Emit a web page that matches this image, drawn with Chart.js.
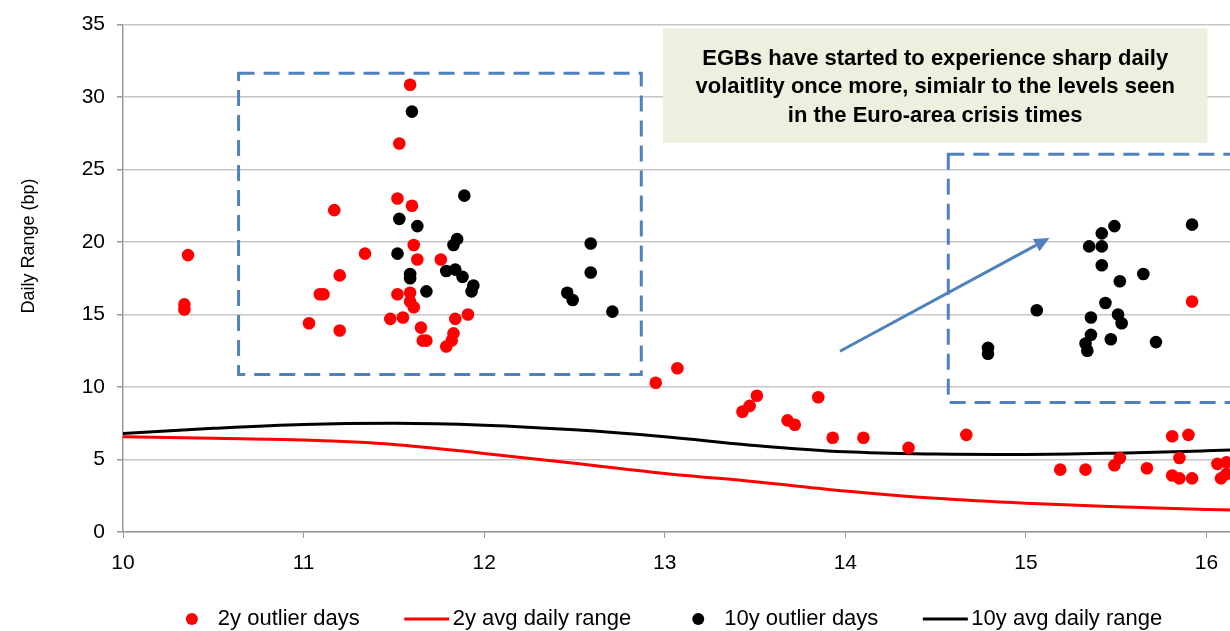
<!DOCTYPE html>
<html lang="en">
<head>
<meta charset="UTF-8" />
<title>EGB daily range</title>
<script src="https://cdn.jsdelivr.net/npm/chart.js@4.4.0/dist/chart.umd.min.js"></script>
<style>
  html, body { margin: 0; padding: 0; background: #fff; }
</style>
</head>
<body>
<canvas id="chart" width="1230" height="631"></canvas>
<script>
// 2y outlier days
const x2y = [10.36, 10.34, 10.34, 11.17, 11.03, 11.09, 11.11, 11.20, 11.20, 11.34, 11.48, 11.53, 11.52, 11.52, 11.55,
  11.59, 11.60, 11.61, 11.59, 11.59, 11.61, 11.63, 11.65, 11.66, 11.68, 11.76, 11.79, 11.82, 11.83, 11.84, 11.91,
  12.95, 13.07, 13.43, 13.47, 13.51, 13.68, 13.72, 13.85, 13.93, 14.10, 14.35, 14.67,
  15.19, 15.33, 15.49, 15.52, 15.67, 15.81, 15.90, 15.85, 15.81, 15.85, 15.92, 15.92, 16.06, 16.11, 16.08, 16.11];
const y2y = [19.1, 15.7, 15.35, 22.2, 14.4, 16.4, 16.4, 17.7, 13.9, 19.2, 14.7, 26.8, 23.0, 16.4, 14.8,
  30.85, 22.5, 19.8, 16.5, 15.9, 15.5, 18.8, 14.1, 13.2, 13.2, 18.8, 12.8, 13.2, 13.7, 14.7, 15.0,
  10.3, 11.3, 8.3, 8.7, 9.4, 7.7, 7.4, 9.3, 6.5, 6.5, 5.8, 6.7,
  4.3, 4.3, 4.6, 5.1, 4.4, 6.6, 6.7, 5.1, 3.9, 3.7, 3.7, 15.9, 4.7, 4.8, 3.7, 4.0];

// 10y outlier days
const x10y = [11.60, 11.89, 11.53, 11.63, 11.85, 11.83, 11.52, 11.59, 11.59, 11.79, 11.84, 11.88, 11.94, 11.93, 11.68,
  12.59, 12.59, 12.46, 12.49, 12.71,
  14.79, 14.79, 15.06, 15.49, 15.42, 15.35, 15.42, 15.42, 15.65, 15.52, 15.44, 15.36, 15.51, 15.53, 15.36,
  15.33, 15.34, 15.47, 15.72, 15.92];
const y10y = [29.0, 23.2, 21.6, 21.1, 20.2, 19.8, 19.2, 17.8, 17.5, 18.0, 18.1, 17.6, 17.0, 16.6, 16.6,
  19.9, 17.9, 16.5, 16.0, 15.2,
  12.7, 12.3, 15.3, 21.1, 20.6, 19.7, 19.7, 18.4, 17.8, 17.3, 15.8, 14.8, 15.0, 14.4, 13.6,
  13.0, 12.5, 13.3, 13.1, 21.2];

// average daily range curves
const avgX = [10, 10.5, 11, 11.5, 12, 12.5, 13, 13.5, 14, 14.5, 15, 15.5, 16, 16.13];
const avg2y = [6.57, 6.46, 6.34, 6.04, 5.42, 4.75, 4.04, 3.47, 2.83, 2.32, 1.98, 1.75, 1.56, 1.52];
const avg10y = [6.8, 7.15, 7.42, 7.5, 7.37, 7.05, 6.57, 5.97, 5.53, 5.38, 5.35, 5.44, 5.6, 5.65];

const labels = ["2y outlier days", "2y avg daily range", "10y outlier days", "10y avg daily range"];
const note = ["EGBs have started to experience sharp daily",
  "volaitlity once more, simialr to the levels seen",
  "in the Euro-area crisis times"];

const FONT = "'Liberation Sans', Arial, sans-serif";
const BLUE = "#4f81bd";

const toPts = (xs, ys) => xs.map((x, i) => ({ x: x, y: ys[i] }));

// annotation shapes, in data units
const dashBoxes = [
  { x0: 10.64, x1: 12.87, y0: 10.87, y1: 31.65 },
  { x0: 14.57, x1: 16.7, y0: 8.94, y1: 26.05 }
];
const arrow = { x0: 13.97, y0: 12.47, x1: 15.13, y1: 20.28 };
const noteBox = { x0: 12.99, x1: 16.005, y0: 26.84, y1: 34.73 };

const decor = {
  id: "decor",
  beforeDatasetsDraw(chart) {
    const { ctx, scales: { x, y } } = chart;
    ctx.save();
    // note box
    const nx0 = x.getPixelForValue(noteBox.x0), nx1 = x.getPixelForValue(noteBox.x1);
    const ny0 = y.getPixelForValue(noteBox.y1), ny1 = y.getPixelForValue(noteBox.y0);
    ctx.fillStyle = "#ebf1de";
    ctx.fillRect(nx0, ny0, nx1 - nx0, ny1 - ny0);
    ctx.fillStyle = "#000";
    ctx.font = "bold 22px " + FONT;
    ctx.textAlign = "center";
    ctx.textBaseline = "middle";
    const cy = (ny0 + ny1) / 2 + 1.5, lh = 28.5;
    note.forEach((t, i) => ctx.fillText(t, (nx0 + nx1) / 2, cy + (i - 1) * lh));

    // dashed boxes
    ctx.strokeStyle = BLUE;
    ctx.lineWidth = 3;
    ctx.setLineDash([16, 9]);
    dashBoxes.forEach(b => {
      const a = x.getPixelForValue(b.x0), c = x.getPixelForValue(b.x1);
      const t = y.getPixelForValue(b.y1), d = y.getPixelForValue(b.y0);
      ctx.strokeRect(a, t, c - a, d - t);
    });
    ctx.setLineDash([]);

    // arrow
    const ax0 = x.getPixelForValue(arrow.x0), ay0 = y.getPixelForValue(arrow.y0);
    const ax1 = x.getPixelForValue(arrow.x1), ay1 = y.getPixelForValue(arrow.y1);
    const ang = Math.atan2(ay1 - ay0, ax1 - ax0);
    const hl = 15, hw = 7;
    const bx = ax1 - Math.cos(ang) * hl, by = ay1 - Math.sin(ang) * hl;
    ctx.beginPath();
    ctx.moveTo(ax0, ay0);
    ctx.lineTo(bx, by);
    ctx.stroke();
    ctx.fillStyle = BLUE;
    ctx.beginPath();
    ctx.moveTo(ax1, ay1);
    ctx.lineTo(bx + Math.sin(ang) * hw, by - Math.cos(ang) * hw);
    ctx.lineTo(bx - Math.sin(ang) * hw, by + Math.cos(ang) * hw);
    ctx.closePath();
    ctx.fill();
    ctx.restore();
  },
  afterDraw(chart) {
    const { ctx, chartArea } = chart;
    ctx.save();
    // y axis title
    ctx.fillStyle = "#000";
    ctx.font = "18px " + FONT;
    ctx.textAlign = "center";
    ctx.textBaseline = "middle";
    ctx.translate(29, 246);
    ctx.rotate(-Math.PI / 2);
    ctx.fillText("Daily Range (bp)", 0, 0);
    ctx.restore();

    // legend
    ctx.save();
    ctx.font = "22px " + FONT;
    ctx.textBaseline = "middle";
    ctx.textAlign = "left";
    const order = [0, 2, 1, 3];
    const box = 30, gap = 11, pad = 52, ly = 619;
    const widths = order.map(i => box + gap + ctx.measureText(chart.data.datasets[i].label).width);
    const total = widths.reduce((s, w) => s + w, 0) + pad * (order.length - 1);
    let lx = (chartArea.left + chartArea.right) / 2 - total / 2 - 7;
    order.forEach((i, k) => {
      const ds = chart.data.datasets[i];
      const c = lx + box / 2;
      if (ds.showLine) {
        ctx.strokeStyle = ds.borderColor;
        ctx.lineWidth = 3;
        ctx.beginPath();
        ctx.moveTo(c - 22.5, ly);
        ctx.lineTo(c + 22.5, ly);
        ctx.stroke();
      } else {
        ctx.fillStyle = ds.backgroundColor;
        ctx.beginPath();
        ctx.arc(c, ly, 6, 0, Math.PI * 2);
        ctx.fill();
      }
      ctx.fillStyle = "#000";
      ctx.fillText(ds.label, lx + box + gap, ly);
      lx += widths[k] + pad;
    });
    ctx.restore();
  }
};

new Chart(document.getElementById("chart"), {
  type: "scatter",
  data: {
    datasets: [
      { label: labels[0], data: toPts(x2y, y2y), backgroundColor: "#ff0000", borderWidth: 0, pointRadius: 6.3, showLine: false },
      { label: labels[2], data: toPts(x10y, y10y), backgroundColor: "#000000", borderWidth: 0, pointRadius: 6.3, showLine: false },
      { label: labels[1], data: toPts(avgX, avg2y), borderColor: "#ff0000", borderWidth: 3, pointRadius: 0,
        showLine: true, cubicInterpolationMode: "monotone" },
      { label: labels[3], data: toPts(avgX, avg10y), borderColor: "#000000", borderWidth: 3, pointRadius: 0,
        showLine: true, cubicInterpolationMode: "monotone" }
    ]
  },
  options: {
    responsive: false,
    animation: false,
    devicePixelRatio: 1,
    layout: { autoPadding: false, padding: { top: 24, right: 0, bottom: 56, left: 0 } },
    plugins: { legend: { display: false }, tooltip: { enabled: false } },
    scales: {
      x: {
        type: "linear",
        min: 10,
        max: 16.13,
        afterFit: s => { s.height = 43; s.paddingRight = 0; s.paddingLeft = 0; },
        ticks: { stepSize: 1, includeBounds: false, color: "#000", padding: 13, font: { size: 21, family: FONT } },
        grid: { drawOnChartArea: false, drawTicks: true, tickLength: 6, tickColor: "#9a9a9a" },
        border: { color: "#9a9a9a", width: 1.5 }
      },
      y: {
        min: 0,
        max: 35,
        afterFit: s => { s.width = 123; },
        ticks: { stepSize: 5, color: "#000", padding: 12, font: { size: 21, family: FONT } },
        grid: { color: "#c6c6c6", lineWidth: 1.5, tickLength: 6, tickColor: "#9a9a9a" },
        border: { color: "#9a9a9a", width: 1.5 }
      }
    }
  },
  plugins: [decor]
});
</script>
</body>
</html>
